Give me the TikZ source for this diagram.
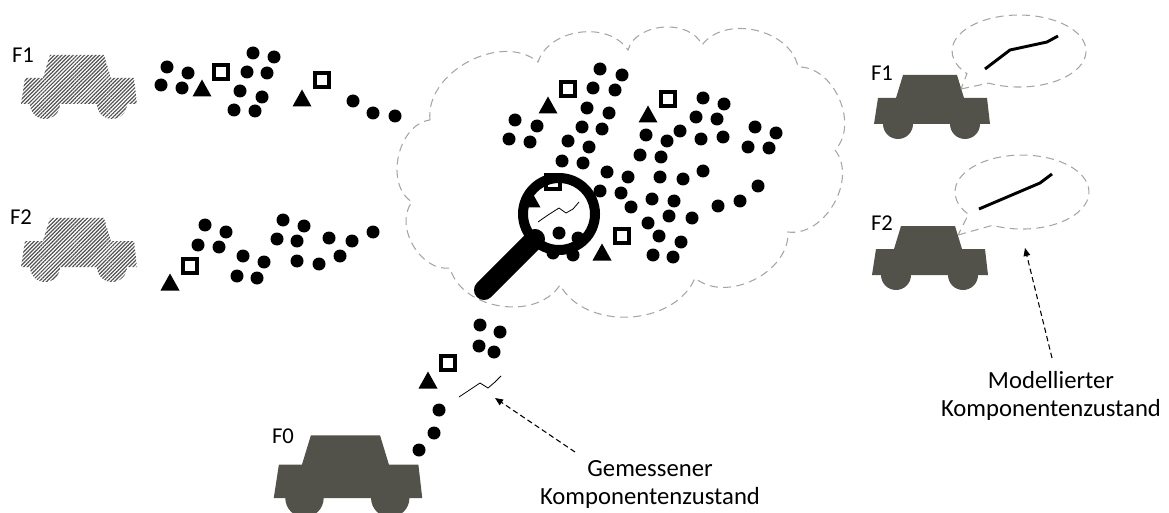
\documentclass[tikz,border=0pt]{standalone}
\usepackage{fontspec}
\setmainfont{Carlito}
\usetikzlibrary{patterns.meta,arrows.meta}
\definecolor{cardark}{RGB}{82,82,74}
\definecolor{cloudgray}{RGB}{166,166,166}
\tikzset{
  car/.pic={\path[pic actions] (-58,0) -- (-54,-26) -- (-36,-26) -- (-29,-49) -- (25,-49) -- (32,-26) -- (55,-26) -- (58,0) -- cycle
    (-34,0) circle[radius=15] (33,0) circle[radius=15];},
  box/.pic={\draw[line width=2.6pt] (-7,-7) rectangle (7,7);},
  tri/.pic={\fill (-9.5,8.5) -- (0,-8.5) -- (9.5,8.5) -- cycle;},
  hatched/.style={pattern={Lines[angle=45,distance=2pt,line width=0.9pt]},pattern color=black!68},
  dasharrow/.style={dash pattern=on 4pt off 2.5pt,line width=0.8pt,-{Triangle[length=6pt,width=5pt]}},
  graydash/.style={draw=cloudgray,dash pattern=on 6pt off 4pt,line width=0.8pt},
  lbl/.style={font=\fontsize{17}{20}\selectfont},
  captext/.style={align=center,font=\fontsize{18.5}{21}\selectfont},
}
\begin{document}
\begin{tikzpicture}[x=0.75pt,y=-0.75pt]
\useasboundingbox (0,0) rectangle (1169,513);
% data cloud, one bulge per segment
\draw[graydash] (430,120) to[bend left=68] (538,62) to[bend left=64] (628,50) to[bend left=70] (702,45)
  to[bend left=66] (798,67) to[bend left=68] (835,150) to[bend left=68] (788,232) to[bend left=66] (695,278)
  to[bend left=64] (560,285) to[bend left=66] (450,268) to[bend left=68] (412,202) to[bend left=70] (430,120);
% fleet vehicles, left
\pic[hatched] at (79,104) {car};
\pic[hatched] at (79,267) {car};
\node[lbl] (lf1) at (23,55) {F1};
\node[lbl] (lf2) at (21,217) {F2};
% data from F1
\foreach \p in {(167,67),(188,73),(161,85),(182,88),(253,53),(274,57),(247,72),(267,73),(240,91),(262,97),(234,110),(255,111),(353,101),(373,113),(395,116)}
  \fill \p circle[radius=6.5];
\foreach \p in {(221,72),(322,80)} \pic at \p {box};
\foreach \p in {(202,88),(302,98)} \pic at \p {tri};
% data from F2
\foreach \p in {(205,225),(226,232),(198,245),(219,247),(243,256),(264,262),(237,276),(257,278),(283,220),(304,226),(277,239),(297,241),(329,238),(352,241),(373,232),(297,261),(319,264),(340,256)}
  \fill \p circle[radius=6.5];
\pic at (190,266) {box};
\pic at (170,282) {tri};
% data inside the cloud
\foreach \p in {(600,69),(622,75),(593,88),(615,90),(587,108),(609,113),(582,127),(602,129),(568,141),(589,147),(562,161),(583,163),
  (515,120),(537,126),(509,139),(530,142),(607,172),(628,177),(600,191),(621,193),(631,207),
  (646,135),(667,141),(680,131),(640,155),(661,157),(703,98),(724,104),(696,117),(717,119),(701,139),(723,137),
  (755,127),(776,133),(748,147),(769,148),(660,177),(683,179),(703,171),(652,199),(674,201),(669,216),(692,218),
  (648,223),(659,236),(681,242),(653,255),(673,257),(718,206),(740,201),(758,186),
  (559,233),(578,238),(553,253),(573,255)}
  \fill \p circle[radius=6.5];
\foreach \p in {(568,89),(668,99),(622,236),(553,182)} \pic at \p {box};
\foreach \p in {(548,105),(648,114),(602,252),(531,199)} \pic at \p {tri};
% magnifier
\draw[line width=0.6pt] (538,222) -- (548,215) -- (559,208) -- (566,213) -- (573,209) -- (579,202);
\draw[line width=7.5pt] (559,214) circle[radius=36];
\draw[line width=15pt,line cap=round] (535,239) -- (484,290);
% data from F0
\foreach \p in {(480,325),(500,332),(479,346),(494,352),(439,410),(434,433),(419,450)}
  \fill \p circle[radius=6.5];
\pic at (448,363) {box};
\pic at (428,380) {tri};
\draw[line width=0.6pt] (459,397) -- (480,383) -- (488,388) -- (495,382) -- (501,376);
% measuring vehicle
\pic[fill=cardark,scale=1.28] at (348,498) {car};
\node[lbl] (lf0) at (283,436) {F0};
% fleet vehicles, right, with modelled state
\pic[fill=cardark] at (932,124) {car};
\pic[fill=cardark] at (930,275) {car};
\node[lbl] (rf1) at (882,73) {F1};
\node[lbl] (rf2) at (882,223) {F2};
\draw[graydash] (961,89) -- (988.6,83.1) arc[start angle=117,end angle=-219,x radius=67,y radius=36] -- cycle;
\draw[graydash] (958,235) -- (992.6,225.3) arc[start angle=116,end angle=-217,x radius=67,y radius=37] -- cycle;
\draw[line width=2.2pt] (985,69) -- (1010,50) -- (1047,42) -- (1058,36);
\draw[line width=2.2pt] (979,209) -- (1040,183) -- (1052,174);
% captions
\node[captext] (measlabel) at (650,484) {Gemessener\\Komponentenzustand};
\node[captext] (modlabel) at (1051,396) {Modellierter\\Komponentenzustand};
\coordinate (meastail) at (575,452);
\coordinate (meastip) at (495,398);
\coordinate (modtail) at (1052,358);
\coordinate (modtip) at (1025,248);
\draw[dasharrow] (meastail) -- (meastip);
\draw[dasharrow] (modtail) -- (modtip);
\end{tikzpicture}
\end{document}
